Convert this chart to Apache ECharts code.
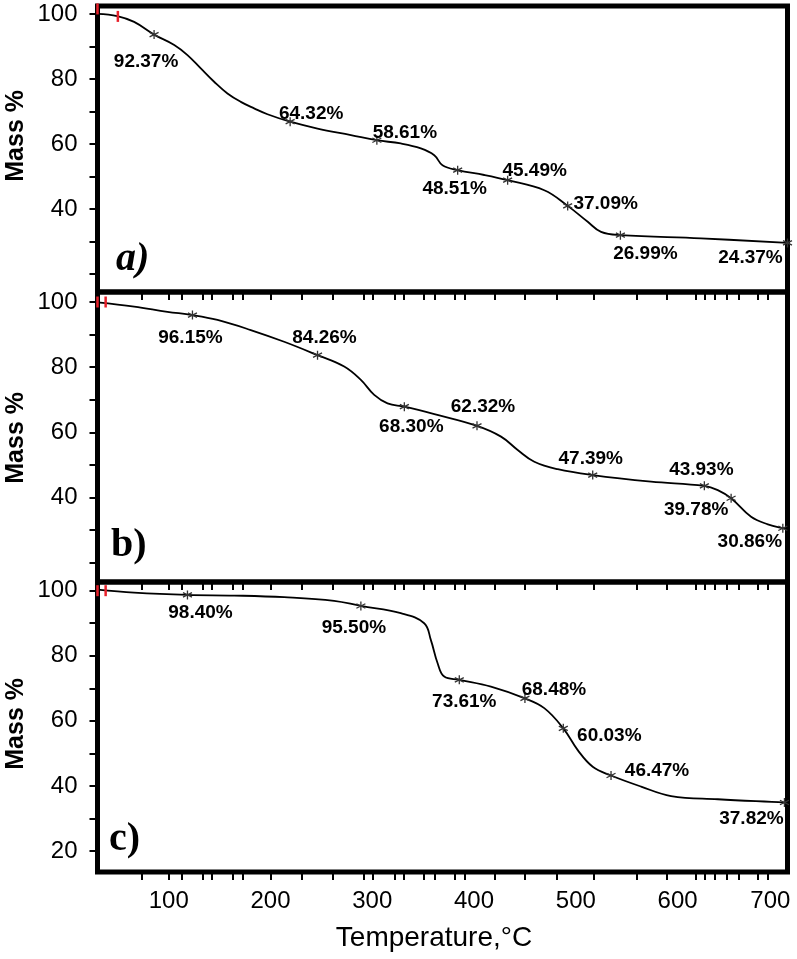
<!DOCTYPE html>
<html>
<head>
<meta charset="utf-8">
<script src="https://cdn.jsdelivr.net/npm/echarts@6/dist/echarts.min.js"></script>
<style>
html,body{margin:0;padding:0;background:#fff;}
#chart{width:797px;height:959px;}
</style>
</head>
<body>
<div id="chart"></div>
<script>
// ---------------- data ----------------
const tempLabels = [100, 200, 300, 400, 500, 600, 700];
const tempTicks = [73, 100, 113, 133, 142, 163, 173, 200, 231, 261, 292, 300, 322, 331, 351, 361, 381, 391, 420, 450, 481, 518, 560, 589, 618, 627, 637, 648, 660, 679, 689];
const massTicks = [20, 30, 40, 50, 60, 70, 80, 90, 100];
const massLabelsAB = [40, 60, 80, 100];
const massLabelsC = [20, 40, 60, 80, 100];

// panel a) : [temperature, mass %]
const curveA = [[30,100.1],[49.5,99.4],[66,97.6],[85.6,93.7],[105.4,90.5],[118.4,87.4],[131.5,83.3],[144.6,79.2],[157.7,75.6],[170.8,73],[183.9,71],[197,69.2],[219.3,66.9],[246.2,64.8],[279,62.8],[304.5,61.2],[328,60.2],[347.7,58.7],[360.9,56.6],[369,53.5],[383.9,52],[410,50.5],[433,48.9],[469,45.8],[492,41],[511.7,36.1],[524.8,33],[543.8,32],[623,31],[708,29.6]];
const pointsA = [[85.6,93.7],[219.3,66.9],[304.5,61.2],[383.9,52],[433,48.9],[492,41],[543.8,32],[708,29.6]];
const textsA = ['92.37%','64.32%','58.61%','48.51%','45.49%','37.09%','26.99%','24.37%'];

// panel b)
const curveB = [[30,99.9],[66,98.6],[98.7,97],[123.3,96],[147.9,94.5],[180.6,91.4],[213.4,87.8],[246.2,83.7],[272.4,80.2],[288.8,76.1],[301.9,71.5],[315,68.9],[331.5,67.9],[361,65.6],[402.9,62],[426.5,58.7],[442.9,54.6],[459.2,51],[482.2,48.7],[516.6,46.9],[573.9,44.9],[626.3,43.6],[639.5,42.3],[652.6,39.8],[672.2,34.1],[688.7,31.8],[703.4,30.6],[708,30.4]];
const pointsB = [[123.3,96],[246.2,83.7],[331.5,67.9],[402.9,62],[516.6,46.9],[626.3,43.6],[652.6,39.8],[703.4,30.6]];
const textsB = ['96.15%','84.26%','68.30%','62.32%','47.39%','43.93%','39.78%','30.86%'];

// panel c)
const curveC = [[30,100.3],[65.9,99.4],[118.4,98.7],[164.2,98.5],[213.4,98],[262.5,96.9],[288.8,95.3],[328,93.1],[351,90],[357.6,84.8],[364.2,77.7],[370.7,73.6],[385.5,72.6],[416.6,70.5],[450,66.9],[469,63.9],[487.7,57.7],[501.9,51],[516.6,45.9],[534.6,43.2],[564.1,39.8],[593.6,36.9],[639.5,35.9],[705,34.9],[708,34.8]];
const pointsC = [[118.4,98.7],[288.8,95.3],[385.5,72.6],[450,66.9],[487.7,57.7],[534.6,43.2],[705,34.9]];
const textsC = ['98.40%','95.50%','73.61%','68.48%','60.03%','46.47%','37.82%'];

// red cursor marks of the instrument software
const cursorA = [[30,101.6],[50,99.3]];
const cursorB = [[30,100],[38,100]];
const cursorC = [[30,100],[38,100]];

const panelNames = ['a)', 'b)', 'c)'];

// ---------------- style (label offsets in px) ----------------
const offA = [[-8,27],[21,-8],[28,-7],[-3,19],[27,-9],[38,-2],[25,19],[-37,15]];
const offB = [[-2,23],[7,-17],[7,20],[6,-19],[-2,-16],[-3,-16],[-35,12],[-33,14]];
const offC = [[13,18],[-7,22],[5,22],[29,-9],[46,7],[46,-5],[-33,16]];

const FONT = 'Liberation Sans, Arial, sans-serif';
const SERIF = 'Liberation Serif, Times New Roman, serif';
const asterisk = 'path://M5,0L5,10M0.67,2.5L9.33,7.5M0.67,7.5L9.33,2.5';

const gridLeft = 97.5, gridWidth = 690;
const grids = [
  {left: gridLeft, width: gridWidth, top: 6, height: 286},
  {left: gridLeft, width: gridWidth, top: 292, height: 290},
  {left: gridLeft, width: gridWidth, top: 582, height: 290}
].map(g => Object.assign(g, {show: true, borderColor: '#000', borderWidth: 5, backgroundColor: 'transparent', containLabel: false}));

const yRanges = [[14.5, 102.5], [14.1, 103.07], [13.55, 102.67]];

function xAxisFor(i) {
  const last = i === 2;
  return {
    type: 'value', gridIndex: i, min: 30, max: 708,
    axisLine: {show: false},
    splitLine: {show: false},
    axisTick: {show: true, inside: false, length: 8, customValues: tempTicks, lineStyle: {color: '#000', width: 2}},
    axisLabel: {
      show: last, customValues: tempLabels, margin: 17,
      fontFamily: FONT, fontSize: 24, color: '#000',
      formatter: v => v === 700 ? '{s|' + v + '}' : String(v),
      rich: {s: {fontFamily: FONT, fontSize: 24, color: '#000', padding: [0, 18, 0, 0]}}
    },
    name: last ? 'Temperature,°C' : '',
    nameLocation: 'middle', nameGap: 52,
    nameTextStyle: {fontFamily: FONT, fontSize: 28, color: '#000', padding: [0, 17, 0, 0]}
  };
}

function yAxisFor(i) {
  return {
    type: 'value', gridIndex: i, min: yRanges[i][0], max: yRanges[i][1],
    axisLine: {show: false},
    splitLine: {show: false},
    axisTick: {show: true, inside: false, length: 8, customValues: massTicks, lineStyle: {color: '#000', width: 2}},
    axisLabel: {
      customValues: i === 2 ? massLabelsC : massLabelsAB, margin: 20,
      fontFamily: FONT, fontSize: 24, color: '#000'
    }
  };
}

function curveSeries(i, data) {
  return {
    type: 'line', xAxisIndex: i, yAxisIndex: i, data: data,
    smooth: 0.4, showSymbol: false, symbol: 'none',
    lineStyle: {color: '#000', width: 1.8}, silent: true, z: 3
  };
}

function pointSeries(i, pts, texts, offs) {
  return {
    type: 'scatter', xAxisIndex: i, yAxisIndex: i, clip: false, silent: true, z: 5,
    symbol: asterisk, symbolSize: 9,
    itemStyle: {color: 'none', borderColor: '#333', borderWidth: 1.3, opacity: 1},
    data: pts.map((p, k) => ({
      value: p,
      label: {
        show: true, position: 'inside', offset: offs[k], opacity: 1,
        formatter: texts[k], fontFamily: FONT, fontWeight: 'bold', fontSize: 19,
        color: '#000', textBorderWidth: 0
      }
    }))
  };
}

function cursorSeries(i, pts) {
  return {
    type: 'scatter', xAxisIndex: i, yAxisIndex: i, clip: false, silent: true, z: 4,
    symbol: 'rect', symbolSize: [2.5, 11],
    itemStyle: {color: '#e8202a', opacity: 1},
    data: pts
  };
}

const chart = echarts.init(document.getElementById('chart'), null, {renderer: 'canvas'});
chart.setOption({
  backgroundColor: '#fff',
  animation: false,
  grid: grids,
  xAxis: [0, 1, 2].map(xAxisFor),
  yAxis: [0, 1, 2].map(yAxisFor),
  series: [
    curveSeries(0, curveA), curveSeries(1, curveB), curveSeries(2, curveC),
    cursorSeries(0, cursorA), cursorSeries(1, cursorB), cursorSeries(2, cursorC),
    pointSeries(0, pointsA, textsA, offA),
    pointSeries(1, pointsB, textsB, offB),
    pointSeries(2, pointsC, textsC, offC)
  ],
  graphic: [
    {type: 'text', left: 4, top: 90, rotation: Math.PI / 2, style: {text: 'Mass %', fontFamily: FONT, fontWeight: 'bold', fontSize: 25, fill: '#000'}, z: 10},
    {type: 'text', left: 4, top: 392, rotation: Math.PI / 2, style: {text: 'Mass %', fontFamily: FONT, fontWeight: 'bold', fontSize: 25, fill: '#000'}, z: 10},
    {type: 'text', left: 4, top: 678, rotation: Math.PI / 2, style: {text: 'Mass %', fontFamily: FONT, fontWeight: 'bold', fontSize: 25, fill: '#000'}, z: 10},
    {type: 'text', left: 116, top: 240, style: {text: panelNames[0], fontFamily: SERIF, fontWeight: 'bold', fontStyle: 'italic', fontSize: 40, fill: '#000'}, z: 10},
    {type: 'text', left: 111, top: 526, style: {text: panelNames[1], fontFamily: SERIF, fontWeight: 'bold', fontSize: 40, fill: '#000'}, z: 10},
    {type: 'text', left: 109, top: 820, style: {text: panelNames[2], fontFamily: SERIF, fontWeight: 'bold', fontSize: 40, fill: '#000'}, z: 10}
  ]
});
</script>
</body>
</html>
